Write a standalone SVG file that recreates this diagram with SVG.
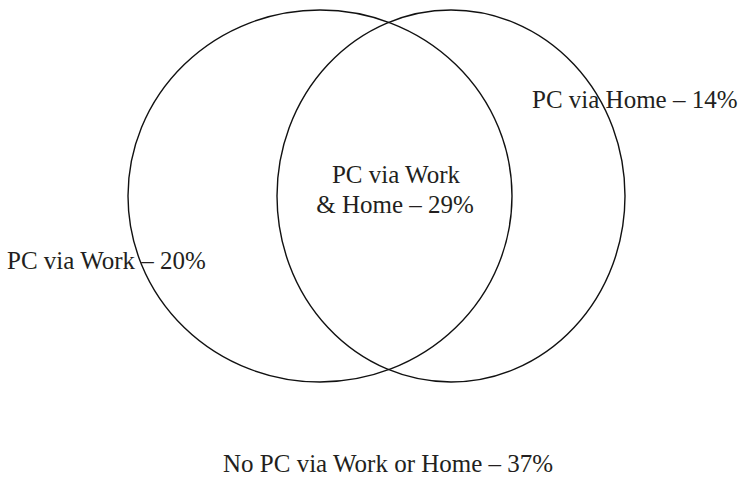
<svg xmlns="http://www.w3.org/2000/svg" width="739" height="477" viewBox="0 0 739 477">
  <style>
    .set { fill: none; stroke: #111; stroke-width: 1.4; }
    .lbl { font-family: "Liberation Serif", "Times New Roman", serif; font-size: 25px; fill: #231f20; }
  </style>
  <rect width="739" height="477" fill="#fff"/>
  <!-- the two overlapping sets -->
  <g id="work">
    <ellipse class="set" cx="320" cy="196" rx="192" ry="186"/>
  </g>
  <g id="home">
    <ellipse class="set" cx="451" cy="196" rx="174" ry="186"/>
  </g>
  <g id="labels">
    <text class="lbl" x="396" y="183" text-anchor="middle">PC via Work</text>
    <text class="lbl" x="395" y="213" text-anchor="middle">&amp; Home – 29%</text>
    <text class="lbl" x="7" y="269">PC via Work – 20%</text>
    <text class="lbl" x="532" y="108">PC via Home – 14%</text>
    <text class="lbl" x="223" y="472">No PC via Work or Home – 37%</text>
  </g>
</svg>
